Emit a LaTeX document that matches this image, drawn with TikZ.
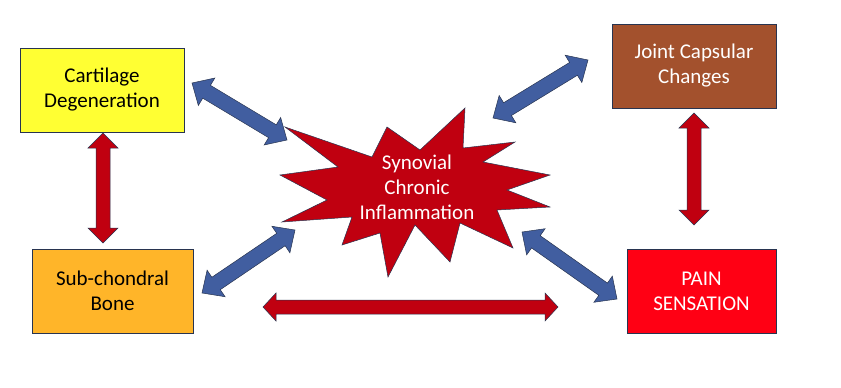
\documentclass[tikz,border=0pt]{standalone}
\usepackage{fontspec}
\setmainfont{Carlito}
\usetikzlibrary{calc}
\definecolor{arrblue}{RGB}{65,94,160}
\definecolor{arrred}{RGB}{192,0,16}
\definecolor{outl}{RGB}{40,52,80}
\definecolor{cartyel}{RGB}{255,255,51}
\definecolor{capbrown}{RGB}{163,81,45}
\definecolor{boneorg}{RGB}{255,181,41}
\definecolor{painred}{RGB}{255,0,20}
\newcommand\dblarr[5]{% #1 A, #2 B, #3 style, #4 half shaft, #5 half head ; head length via \arrhl
  \coordinate (da1) at ($(#1)!\arrhl!(#2)$);
  \coordinate (db1) at ($(#2)!\arrhl!(#1)$);
  \draw[#3] (#1) -- ($(da1)!#5!90:(#2)$) -- ($(da1)!#4!90:(#2)$)
    -- ($(db1)!#4!-90:(#1)$) -- ($(db1)!#5!-90:(#1)$) -- (#2)
    -- ($(db1)!#5!90:(#1)$) -- ($(db1)!#4!90:(#1)$)
    -- ($(da1)!#4!-90:(#2)$) -- ($(da1)!#5!-90:(#2)$) -- cycle;}
\def\arrhl{17pt}
\tikzset{
  box/.style={draw=outl, line width=0.7pt, minimum height=84pt, align=center,
    font=\fontsize{21}{25}\selectfont, inner sep=2pt},
  bluearr/.style={fill=arrblue, draw=outl, line width=0.5pt, line join=miter},
  redarr/.style={fill=arrred, draw=outl, line width=0.5pt, line join=miter},
  startxt/.style={text=white, align=center, font=\fontsize{21}{25}\selectfont}
}
\begin{document}
\begin{tikzpicture}[x=1pt,y=-1pt]
\useasboundingbox (0,0) rectangle (841,388);
% boxes
\node[box, fill=cartyel, minimum width=164pt] (cart) at (102,90) {Cartilage\\Degeneration};
\node[box, fill=capbrown, text=white, minimum width=164pt] (caps) at (694,66) {Joint Capsular\\Changes};
\node[box, fill=boneorg, minimum width=161pt] (bone) at (112.5,291) {Sub-chondral\\Bone};
\node[box, fill=painred, text=white, minimum width=149pt] (pain) at (701.5,291) {PAIN\\SENSATION};
% star
\draw[fill=arrred, draw=outl, line width=0.5pt, line join=miter]
  (280,175) -- (327,200) -- (282,222) -- (352,217) -- (342,245) -- (380,233)
  -- (388,277) -- (415,225) -- (450,262) -- (460,223) -- (513,248) -- (497,210)
  -- (550,207) -- (507,190) -- (550,175) -- (483,162) -- (515,142) -- (463,148)
  -- (465,108) -- (420,150) -- (387,127) -- (372,157) -- (285,127) -- (338,167) -- cycle;
\node[startxt] (syn) at (417,187) {Synovial\\Chronic\\Inflammation};
% arrow end points
\coordinate (c1) at (192,83);  \coordinate (s1) at (287,140);
\coordinate (c2) at (588,60);  \coordinate (s2) at (493,118);
\coordinate (c3) at (202,293); \coordinate (s3) at (295,230);
\coordinate (c4) at (617,299); \coordinate (s4) at (522,232);
\coordinate (v1) at (103,133); \coordinate (v2) at (103,243);
\coordinate (w1) at (694,113); \coordinate (w2) at (694,225);
\coordinate (h1) at (263,307); \coordinate (h2) at (558,307);
% blue arrows
\dblarr{c1}{s1}{bluearr}{7.5pt}{16pt}
\dblarr{s2}{c2}{bluearr}{7.5pt}{16pt}
\dblarr{c3}{s3}{bluearr}{7.5pt}{16pt}
\dblarr{s4}{c4}{bluearr}{7.5pt}{16pt}
% red arrows
\def\arrhl{15pt}
\dblarr{v1}{v2}{redarr}{7pt}{15pt}
\dblarr{w1}{w2}{redarr}{7pt}{15pt}
\def\arrhl{13pt}
\dblarr{h1}{h2}{redarr}{7pt}{14pt}
\end{tikzpicture}
\end{document}
